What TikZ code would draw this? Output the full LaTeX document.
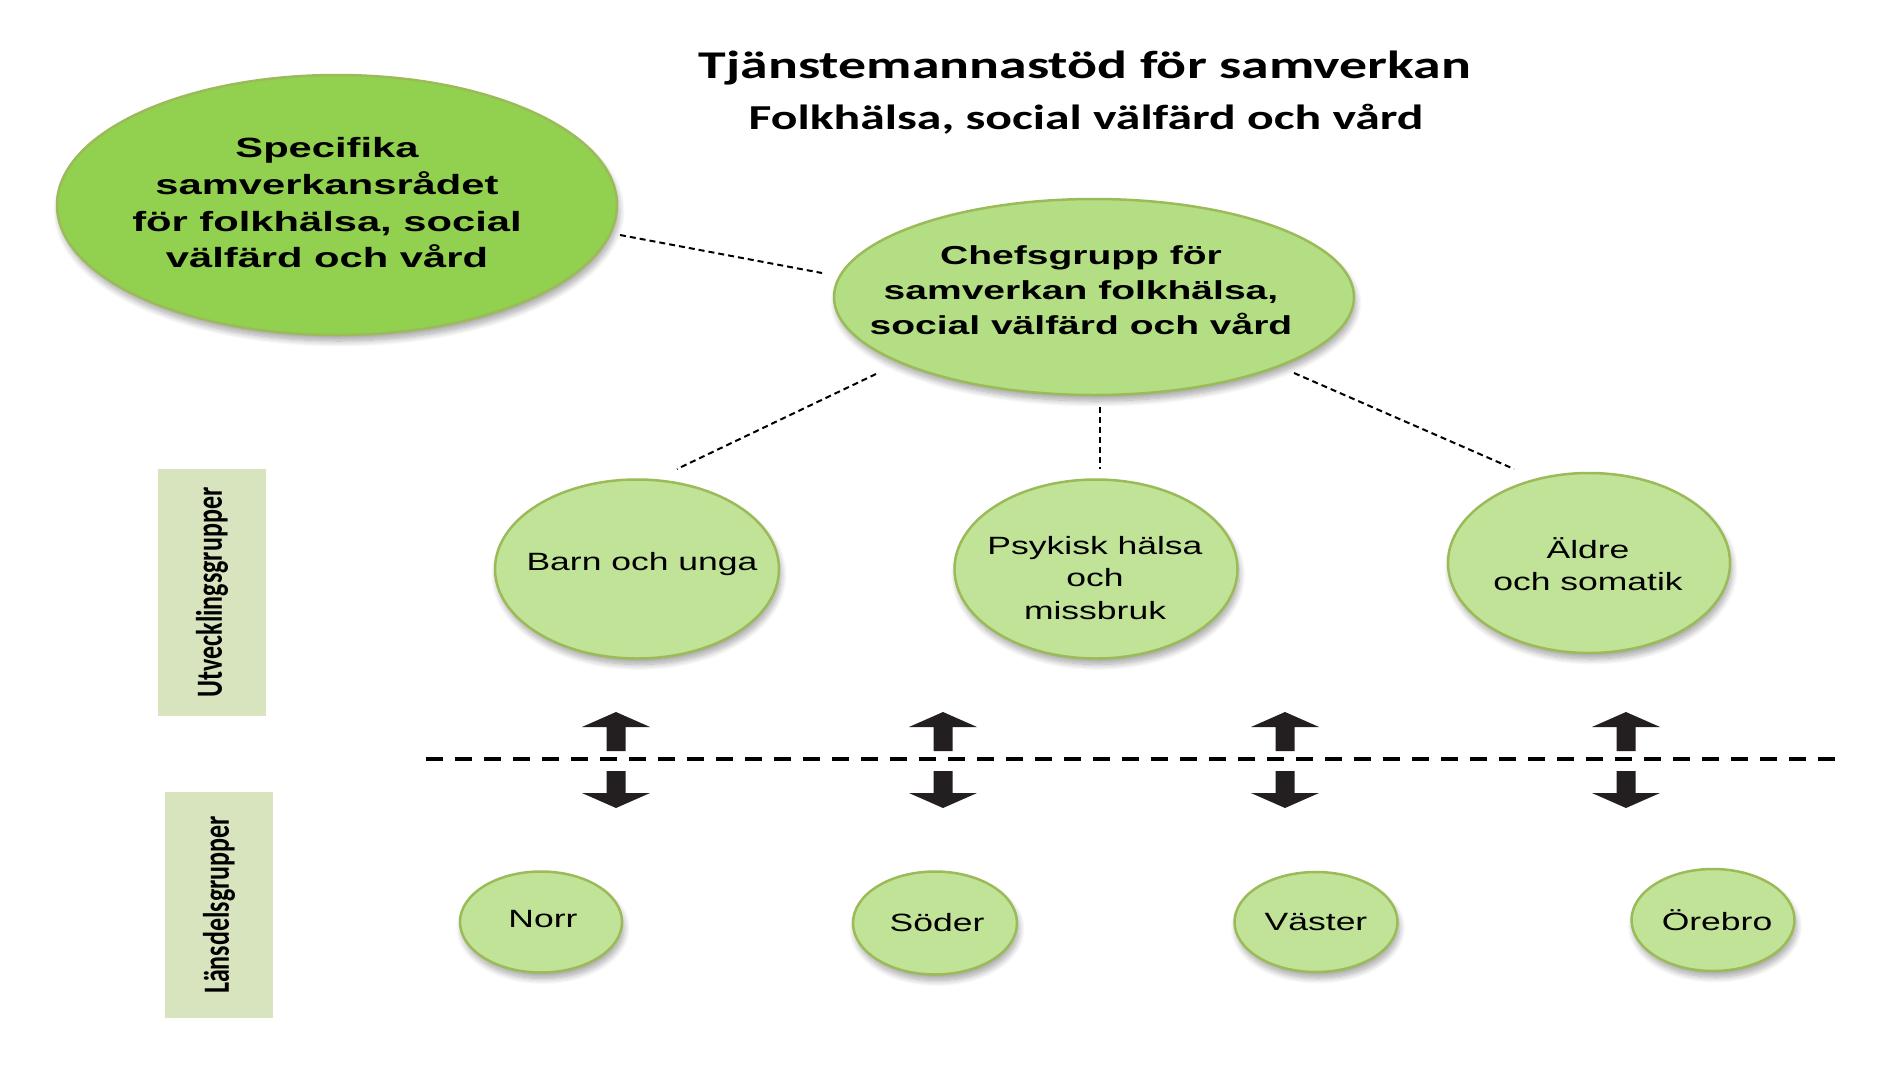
\documentclass[tikz,border=0pt]{standalone}
\usepackage{fontspec}
\setmainfont{Liberation Sans}[FakeStretch=1.42]
\newfontfamily\boldfam{Liberation Sans}[FakeStretch=1.5]
\newfontfamily\titlefam{Carlito}[FakeStretch=1.42]
\newfontfamily\sidefam{Carlito}
\usetikzlibrary{shapes.geometric,shadows.blur}
\definecolor{specfill}{HTML}{92D050}
\definecolor{cheffill}{HTML}{B3DE83}
\definecolor{grpfill}{HTML}{C1E398}
\definecolor{ellborder}{HTML}{9BBB59}
\definecolor{sidefill}{HTML}{D7E4BD}
\definecolor{arrowcol}{HTML}{231F20}
\tikzset{
  ell/.style={ellipse, draw=ellborder, line width=2.5pt, inner sep=0pt,
    blur shadow={shadow xshift=2pt, shadow yshift=-6pt, shadow blur radius=6pt, shadow blur steps=10, shadow opacity=35}},
  bodytxt/.style={align=center, inner sep=0pt, font=\fontsize{25}{32.5}\selectfont},
  boldtxt/.style={align=center, inner sep=0pt, font=\boldfam\bfseries\fontsize{27.8}{36.7}\selectfont},
  sidebox/.style={fill=sidefill, inner sep=0pt, rotate=90, font=\sidefam\bfseries\fontsize{26}{30}\selectfont},
  smalldash/.style={line width=2pt, dash pattern=on 6pt off 4pt},
  sepline/.style={line width=4pt, dash pattern=on 17pt off 12pt},
}
\begin{document}
\begin{tikzpicture}[x=1pt,y=-1pt]
\useasboundingbox (0,0) rectangle (1887,1087);

% titles
\node[anchor=base, inner sep=0pt, font=\titlefam\bfseries\fontsize{39.3}{44}\selectfont] (title) at (1085,78) {Tjänstemannastöd för samverkan};
\node[anchor=base, inner sep=0pt, font=\titlefam\bfseries\fontsize{35}{40}\selectfont] (subtitle) at (1086,129) {Folkhälsa, social välfärd och vård};

% top ellipses
\node[ell, fill=specfill, minimum width=560pt, minimum height=260pt] (spec) at (337,205) {};
\node[boldtxt] (specT) at (327,203) {Specifika\\samverkansrådet\\för folkhälsa, social\\välfärd och vård};
\node[ell, fill=cheffill, minimum width=520pt, minimum height=196pt] (chef) at (1094,297) {};
\node[boldtxt, font=\boldfam\bfseries\fontsize{26}{35}\selectfont] (chefT) at (1081,290) {Chefsgrupp för\\samverkan folkhälsa,\\social välfärd och vård};

% development groups
\node[ell, fill=grpfill, minimum width=284pt, minimum height=179pt] (barn) at (637,569) {};
\node[bodytxt] (barnT) at (642,564) {Barn och unga};
\node[ell, fill=grpfill, minimum width=283pt, minimum height=179pt] (psyk) at (1096,569) {};
\node[bodytxt] (psykT) at (1095,578) {Psykisk hälsa\\och\\missbruk};
\node[ell, fill=grpfill, minimum width=282pt, minimum height=180pt] (aldre) at (1589,563) {};
\node[bodytxt] (aldreT) at (1588,564) {Äldre\\och somatik};

% regional groups
\node[ell, fill=grpfill, minimum width=162pt, minimum height=101pt] (norr) at (541,922) {};
\node[bodytxt] (norrT) at (543,919) {Norr};
\node[ell, fill=grpfill, minimum width=164pt, minimum height=103pt] (soder) at (935,923) {};
\node[bodytxt] (soderT) at (937,923) {Söder};
\node[ell, fill=grpfill, minimum width=163pt, minimum height=100pt] (vaster) at (1316,922) {};
\node[bodytxt] (vasterT) at (1316,922) {Väster};
\node[ell, fill=grpfill, minimum width=163pt, minimum height=102pt] (orebro) at (1713,920) {};
\node[bodytxt] (orebroT) at (1717,920) {Örebro};

% side labels
\node[sidebox, minimum width=247pt, minimum height=108pt] (utv) at (212,592.5) {\scalebox{1}[1.42]{Utvecklingsgrupper}};
\node[sidebox, minimum width=226pt, minimum height=108pt] (lans) at (219,905) {\scalebox{1}[1.42]{Länsdelsgrupper}};

% dashed connectors
\coordinate (specE) at (620,235);
\coordinate (chefW) at (822,273);
\coordinate (chefL) at (876,374);
\coordinate (barnN) at (677,469);
\coordinate (chefM) at (1100,407);
\coordinate (psykN) at (1100,469);
\coordinate (chefR) at (1294,373);
\coordinate (aldreN) at (1514,469);
\draw[smalldash] (specE) -- (chefW);
\draw[smalldash] (chefL) -- (barnN);
\draw[smalldash] (chefM) -- (psykN);
\draw[smalldash] (chefR) -- (aldreN);

% separator line
\coordinate (sepL) at (426,759);
\coordinate (sepR) at (1840,759);
\draw[sepline] (sepL) -- (sepR);

% block arrows
\foreach \cx in {616,943,1285,1626}{
  \fill[arrowcol] (\cx,712) -- (\cx+34,727) -- (\cx+9.5,727) -- (\cx+9.5,751) -- (\cx-9.5,751) -- (\cx-9.5,727) -- (\cx-34,727) -- cycle;
  \fill[arrowcol] (\cx,808) -- (\cx+34,793) -- (\cx+9.5,793) -- (\cx+9.5,771) -- (\cx-9.5,771) -- (\cx-9.5,793) -- (\cx-34,793) -- cycle;
}
\end{tikzpicture}
\end{document}
